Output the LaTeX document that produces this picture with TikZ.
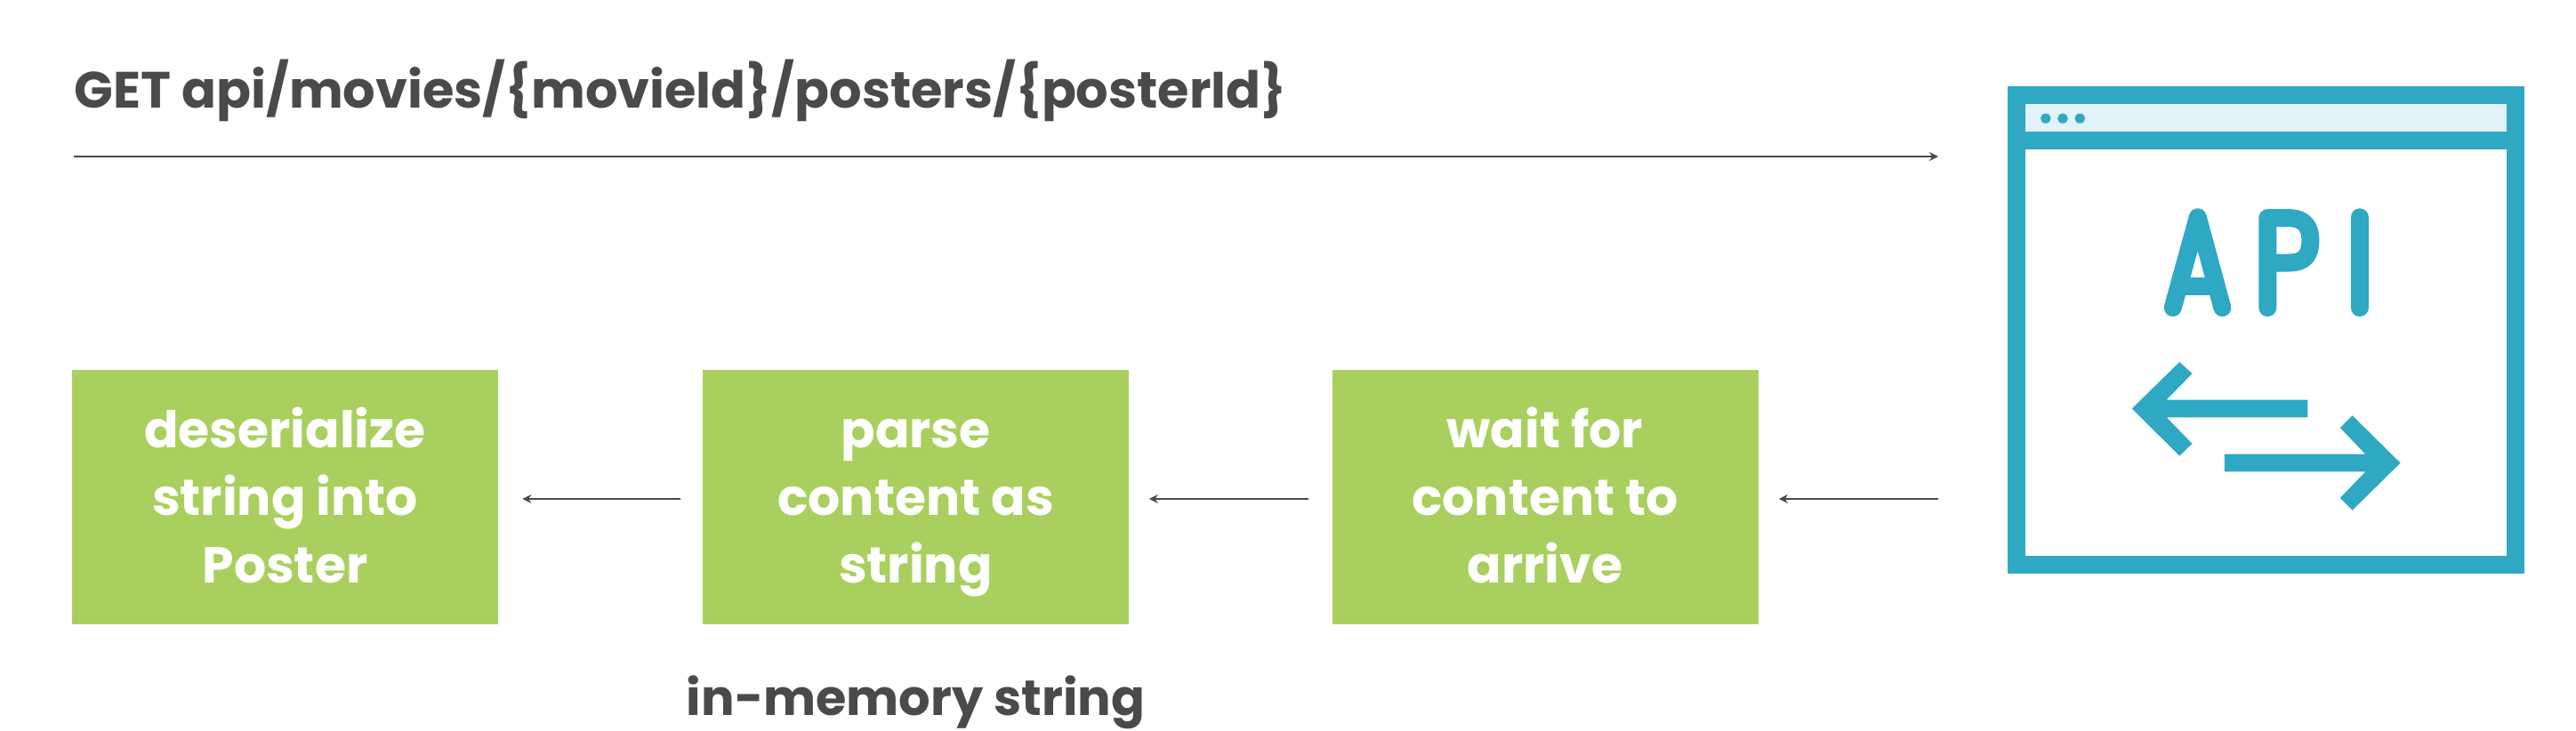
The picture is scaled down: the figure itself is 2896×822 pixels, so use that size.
\documentclass[tikz,border=0pt]{standalone}
\usepackage{fontspec}
\setmainfont{Poppins}
\usetikzlibrary{arrows.meta}
\definecolor{boxgreen}{HTML}{A9D05F}
\definecolor{apiblue}{HTML}{2FA8C4}
\definecolor{barblue}{HTML}{E1F2F8}
\definecolor{ink}{HTML}{4A4A4A}
\newcommand{\firstline}{\rule{0pt}{32.1pt}}
\tikzset{
  stepbox/.style={fill=boxgreen,draw=none,minimum width=239.5pt,minimum height=143pt,inner sep=0pt,
    text=white,align=center,font=\fontsize{28.4}{38}\selectfont\bfseries},
  label/.style={text=ink,inner sep=0pt,font=\fontsize{28.7}{36}\selectfont\bfseries},
  memlabel/.style={text=ink,inner sep=0pt,font=\fontsize{27.9}{36}\selectfont\bfseries},
  flow/.style={draw=ink,line width=0.7pt,-{Stealth[length=5pt,width=5pt]}},
  glyph/.style={draw=apiblue,line width=10pt,line cap=round,line join=round},
}
\begin{document}
\begin{tikzpicture}[x=0.5pt,y=-0.5pt]
\useasboundingbox (0,0) rectangle (2896,822);
% title and request line
\node[label,anchor=base west] (title) at (83,122) {GET api/movies/\{movieId\}/posters/\{posterId\}};
\coordinate (reqstart) at (83,176);
\coordinate (reqend) at (2179,176);
\draw[flow] (reqstart) -- (reqend);
% boxes
\node[stepbox] (deser) at (320.5,559) {\firstline deserialize\\\strut string into\\\strut Poster};
\node[stepbox] (parse) at (1029.5,559) {\firstline parse\\\strut content as\\\strut string};
\node[stepbox] (wait) at (1737,559) {\firstline wait for\\\strut content to\\\strut arrive};
\node[memlabel,anchor=center] (mem) at (1029.5,790) {in-memory string};
% API window
\node[draw=none,minimum width=290.5pt,minimum height=274pt,inner sep=0pt] (api) at (2547.5,371) {};
\fill[apiblue] (2257,97) rectangle (2838,645);
\fill[white] (2277,168) rectangle (2818,625);
\fill[barblue] (2277,117) rectangle (2818,148);
\begin{scope}[shift={(2240,62.3)},x=0.209pt,y=-0.197pt]
  \fill[apiblue] (143,180) circle[x radius=14,y radius=14];
  \fill[apiblue] (189,180) circle[x radius=14,y radius=14];
  \fill[apiblue] (235,180) circle[x radius=14,y radius=14];
  \draw[glyph] (485,720) -- (552,462) -- (618,720);
  \draw[glyph,line cap=butt] (520,659) -- (590,659);
  \draw[glyph] (740,720) -- (740,464) -- (795,464) .. controls (840,464) and (855,490) .. (855,528) .. controls (855,570) and (840,592) .. (795,592) -- (740,592);
  \draw[glyph] (987,462) -- (987,720);
  \fill[apiblue] (375,1008) -- (503,875) -- (537,908) -- (468,983) -- (848,983) -- (848,1033) -- (468,1033) -- (537,1108) -- (503,1143) -- cycle;
  \fill[apiblue] (1097,1163) -- (968,1028) -- (935,1063) -- (1003,1138) -- (624,1138) -- (624,1188) -- (1003,1188) -- (935,1263) -- (968,1298) -- cycle;
\end{scope}
% connectors
\coordinate (apiout) at (2179,561);
\draw[flow,shorten >=11.5pt] (apiout) -- (wait.east |- apiout);
\draw[flow,shorten <=13pt,shorten >=11.2pt] (wait.west |- apiout) -- (parse.east |- apiout);
\draw[flow,shorten <=12.2pt,shorten >=13.5pt] (parse.west |- apiout) -- (deser.east |- apiout);
\end{tikzpicture}
\end{document}
